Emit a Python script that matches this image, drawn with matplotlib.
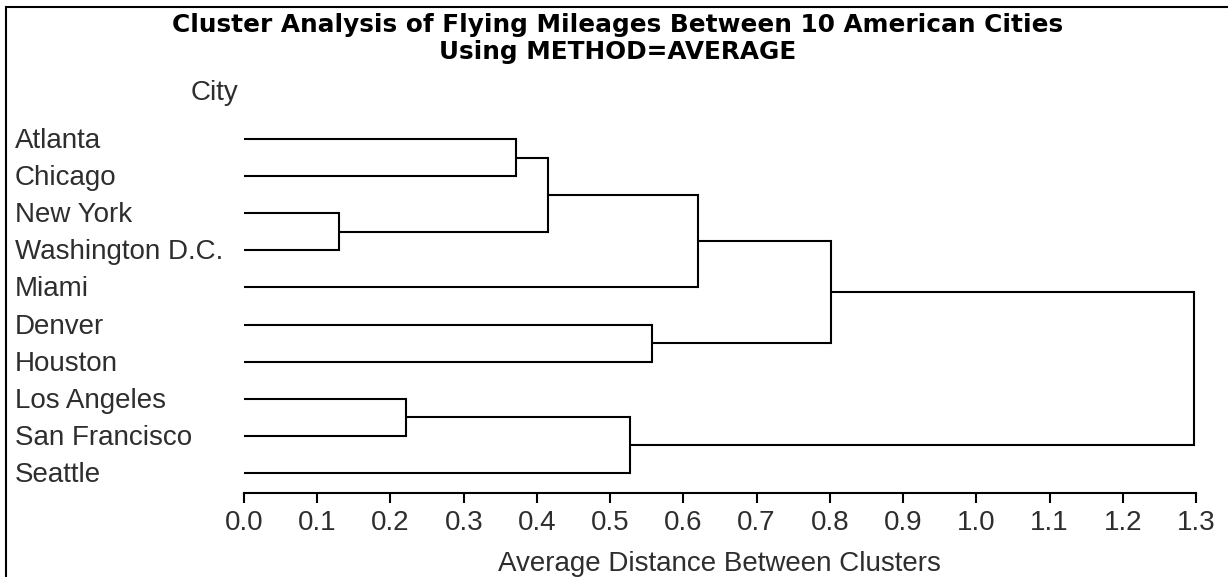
import matplotlib
matplotlib.use("Agg")
import matplotlib.pyplot as plt
from matplotlib.patches import Rectangle

# ---- data ----
cities = ["Atlanta", "Chicago", "New York", "Washington D.C.", "Miami",
          "Denver", "Houston", "Los Angeles", "San Francisco", "Seattle"]
merge_names = ["CL9", "CL8", "CL7", "CL6", "CL5", "CL4", "CL3", "CL2", "CL1"]
merge_left = ["New York", "Los Angeles", "Atlanta", "CL7", "CL8", "Denver", "CL6", "CL3", "CL2"]
merge_right = ["Washington D.C.", "San Francisco", "Chicago", "CL9", "Seattle", "Houston", "Miami", "CL4", "CL5"]
merge_height = [0.130, 0.221, 0.371, 0.415, 0.527, 0.557, 0.620, 0.801, 1.297]
xticks = [0.0, 0.1, 0.2, 0.3, 0.4, 0.5, 0.6, 0.7, 0.8, 0.9, 1.0, 1.1, 1.2, 1.3]

title_lines = ["Cluster Analysis of Flying Mileages Between 10 American Cities",
               "Using METHOD=AVERAGE"]
xlabel = "Average Distance Between Clusters"
ylabel = "City"

plt.rcParams['font.family'] = ['Liberation Sans', 'DejaVu Sans']
txt_color = '#2e2e2e'
fs = 20

W, H = 1228, 577
fig = plt.figure(figsize=(W / 100, H / 100), dpi=100)

x0px, x1px = 244, 1196
ytop_px, ybot_px = 120.5, 493
ax = fig.add_axes([x0px / W, 1 - ybot_px / H, (x1px - x0px) / W, (ybot_px - ytop_px) / H])

pos = {c: float(i) for i, c in enumerate(cities)}
hgt = {c: 0.0 for c in cities}
lc = 'black'
lw = 1.5
for name, l, r, h in zip(merge_names, merge_left, merge_right, merge_height):
    for ch in (l, r):
        ax.plot([hgt[ch], h], [pos[ch], pos[ch]], color=lc, lw=lw, solid_capstyle='butt')
    ax.plot([h, h], [pos[l], pos[r]], color=lc, lw=lw, solid_capstyle='projecting')
    pos[name] = (pos[l] + pos[r]) / 2
    hgt[name] = h

ax.set_xlim(0, 1.3)
ax.set_ylim(9.54, -0.5)
for s in ('left', 'top', 'right'):
    ax.spines[s].set_visible(False)
ax.spines['bottom'].set_linewidth(1.5)
ax.set_xticks(xticks)
ax.set_xticklabels([f"{t:.1f}" for t in xticks], fontsize=fs, color=txt_color)
ax.tick_params(axis='x', length=7, width=1.5, pad=5.5)
ax.set_yticks([])

# x label (baseline placement)
fig.text(719 / W, 1 - 571 / H, xlabel, fontsize=fs, color=txt_color, ha='center', va='baseline')

# leaf labels
for i, c in enumerate(cities):
    yline = 139 + i * 37.1
    fig.text(15 / W, 1 - (yline + 9) / H, c, fontsize=fs, color=txt_color, va='baseline', ha='left')

fig.text(214 / W, 1 - 100 / H, ylabel, fontsize=fs, color=txt_color, ha='center', va='baseline')

# title
fig.text(618 / W, 1 - 32 / H, title_lines[0], fontsize=17.8, fontweight='bold', ha='center',
         va='baseline', family=['DejaVu Sans'])
fig.text(618 / W, 1 - 59 / H, title_lines[1], fontsize=17.8, fontweight='bold', ha='center',
         va='baseline', family=['DejaVu Sans'])

fig.patches.append(Rectangle((6 / W, -0.1), 1.2, 1 - 7 / H + 0.1, transform=fig.transFigure,
                             fill=False, edgecolor='black', lw=1.5))

fig.savefig("out.png", dpi=100)
